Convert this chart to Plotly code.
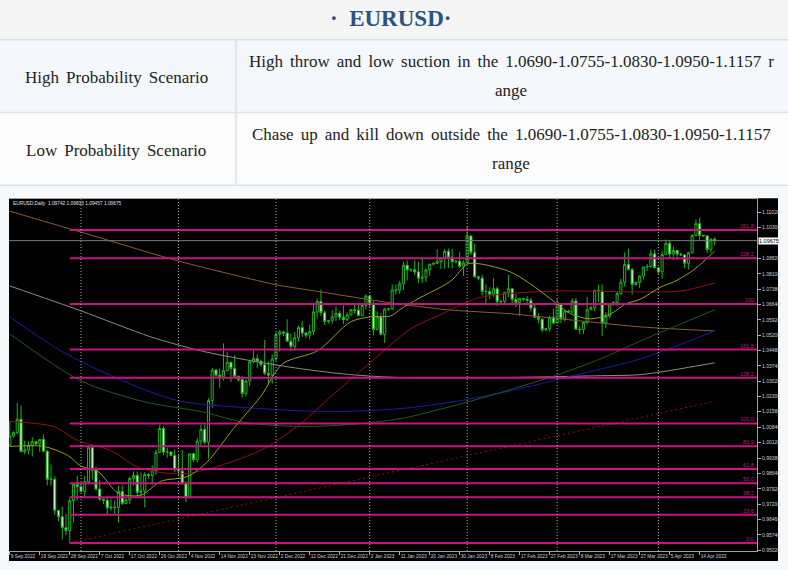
import pandas as pd
import plotly.graph_objects as go

W, H = 788, 570

# ---------------- data ----------------
title_text = "·  EURUSD·"
row_labels = ["High Probability Scenario", "Low Probability Scenario"]
row_lines = [
    ["High throw and low suction in the 1.0690-1.0755-1.0830-1.0950-1.1157 r", "ange"],
    ["Chase up and kill down outside the 1.0690-1.0755-1.0830-1.0950-1.1157", "range"],
]
chart_caption = "EURUSD,Daily  1.09742 1.09833 1.09457 1.09675"

# daily bars incl. Sunday bars (broker calendar), Sep 9 2022 .. Apr 19 2023
dates = [d for d in pd.date_range("2022-09-09", "2023-04-19", freq="D")
         if d.weekday() != 5 and d.strftime("%m-%d") not in ("12-25", "01-01")]

opens = [1.0000, 1.0042, 1.0058, 1.0122, 0.9968, 0.9977, 0.9998, 1.0015, 1.0005, 1.0026,
         0.9970, 0.9836, 0.9838, 0.9689, 0.9660, 0.9608, 0.9594, 0.9736, 0.9814, 0.9802,
         0.9780, 0.9826, 0.9987, 0.9880, 0.9791, 0.9743, 0.9738, 0.9701, 0.9705, 0.9704,
         0.9780, 0.9722, 0.9740, 0.9841, 0.9856, 0.9775, 0.9781, 0.9860, 0.9855, 0.9877,
         0.9964, 1.0078, 0.9966, 0.9966, 0.9950, 0.9882, 0.9876, 0.9818, 0.9750, 0.9958,
         0.9930, 1.0018, 1.0073, 1.0013, 1.0210, 1.0355, 1.0330, 1.0323, 1.0352, 1.0392,
         1.0362, 1.0325, 1.0310, 1.0243, 1.0303, 1.0394, 1.0409, 1.0397, 1.0380, 1.0339,
         1.0330, 1.0407, 1.0524, 1.0535, 1.0530, 1.0491, 1.0466, 1.0508, 1.0556, 1.0530,
         1.0520, 1.0537, 1.0630, 1.0680, 1.0626, 1.0585, 1.0590, 1.0607, 1.0623, 1.0605,
         1.0593, 1.0616, 1.0640, 1.0638, 1.0612, 1.0661, 1.0705, 1.0669, 1.0547, 1.0606,
         1.0523, 1.0643, 1.0645, 1.0734, 1.0733, 1.0763, 1.0851, 1.0829, 1.0830, 1.0820,
         1.0789, 1.0794, 1.0829, 1.0856, 1.0860, 1.0869, 1.0886, 1.0916, 1.0890, 1.0868,
         1.0870, 1.0846, 1.0862, 1.0990, 1.0911, 1.0796, 1.0790, 1.0727, 1.0727, 1.0714,
         1.0740, 1.0678, 1.0680, 1.0723, 1.0740, 1.0689, 1.0675, 1.0694, 1.0690, 1.0684,
         1.0648, 1.0605, 1.0595, 1.0545, 1.0550, 1.0605, 1.0577, 1.0668, 1.0597, 1.0634,
         1.0630, 1.0682, 1.0548, 1.0546, 1.0580, 1.0640, 1.0650, 1.0731, 1.0729, 1.0578,
         1.0610, 1.0668, 1.0675, 1.0717, 1.0771, 1.0854, 1.0830, 1.0760, 1.0770, 1.0800,
         1.0843, 1.0845, 1.0905, 1.0839, 1.0820, 1.0902, 1.0955, 1.0904, 1.0921, 1.0904,
         1.0900, 1.0860, 1.0910, 1.0992, 1.1048, 1.0992, 1.0990, 1.0926, 1.09742]
highs = [1.0112, 1.0065, 1.0198, 1.0187, 1.0020, 1.0017, 1.0037, 1.0020, 1.0028, 1.0050,
         0.9977, 0.9907, 0.9852, 0.9690, 0.9708, 0.9673, 0.9748, 0.9817, 0.9854, 0.9810,
         0.9853, 0.9999, 0.9999, 0.9897, 0.9835, 0.9745, 0.9750, 0.9745, 0.9737, 0.9807,
         0.9809, 0.9745, 0.9850, 0.9875, 0.9874, 0.9870, 0.9870, 0.9865, 0.9903, 0.9976,
         1.0094, 1.0090, 0.9985, 0.9970, 0.9977, 0.9954, 0.9976, 0.9828, 0.9958, 0.9960,
         1.0033, 1.0095, 1.0095, 1.0222, 1.0365, 1.0358, 1.0362, 1.0481, 1.0440, 1.0393,
         1.0425, 1.0328, 1.0325, 1.0310, 1.0403, 1.0448, 1.0430, 1.0400, 1.0497, 1.0396,
         1.0429, 1.0533, 1.0545, 1.0540, 1.0595, 1.0526, 1.0534, 1.0566, 1.0587, 1.0535,
         1.0569, 1.0673, 1.0694, 1.0736, 1.0637, 1.0592, 1.0638, 1.0658, 1.0635, 1.0660,
         1.0628, 1.0645, 1.0664, 1.0667, 1.0667, 1.0713, 1.0711, 1.0683, 1.0633, 1.0626,
         1.0649, 1.0650, 1.0760, 1.0760, 1.0776, 1.0868, 1.0874, 1.0835, 1.0874, 1.0867,
         1.0888, 1.0836, 1.0858, 1.0865, 1.0927, 1.0890, 1.0929, 1.0930, 1.0928, 1.0875,
         1.0914, 1.0875, 1.1033, 1.0990, 1.0955, 1.0800, 1.0806, 1.0760, 1.0747, 1.0790,
         1.0750, 1.0685, 1.0725, 1.0804, 1.0740, 1.0716, 1.0695, 1.0695, 1.0705, 1.0697,
         1.0665, 1.0623, 1.0601, 1.0555, 1.0611, 1.0645, 1.0691, 1.0670, 1.0637, 1.0640,
         1.0694, 1.0695, 1.0561, 1.0584, 1.0702, 1.0660, 1.0736, 1.0759, 1.0760, 1.0629,
         1.0669, 1.0680, 1.0726, 1.0787, 1.0912, 1.0930, 1.0838, 1.0775, 1.0803, 1.0845,
         1.0857, 1.0925, 1.0925, 1.0840, 1.0917, 1.0973, 1.0968, 1.0941, 1.0924, 1.0910,
         1.0904, 1.0915, 1.0998, 1.1067, 1.1076, 1.0995, 1.0993, 1.0979, 1.09833]
lows = [0.9994, 1.0035, 1.0050, 0.9966, 0.9955, 0.9955, 0.9945, 1.0000, 0.9967, 0.9966,
        0.9808, 0.9807, 0.9668, 0.9640, 0.9553, 0.9572, 0.9536, 0.9633, 0.9737, 0.9775,
        0.9750, 0.9814, 0.9836, 0.9784, 0.9736, 0.9720, 0.9670, 0.9688, 0.9668, 0.9632,
        0.9716, 0.9720, 0.9720, 0.9808, 0.9757, 0.9755, 0.9705, 0.9840, 0.9809, 0.9860,
        0.9961, 0.9952, 0.9940, 0.9945, 0.9870, 0.9853, 0.9810, 0.9730, 0.9747, 0.9920,
        0.9917, 0.9993, 1.0002, 0.9935, 1.0176, 1.0320, 1.0271, 1.0305, 1.0351, 1.0298,
        1.0318, 1.0300, 1.0224, 1.0229, 1.0278, 1.0387, 1.0364, 1.0370, 1.0330, 1.0290,
        1.0290, 1.0399, 1.0442, 1.0515, 1.0490, 1.0444, 1.0448, 1.0489, 1.0511, 1.0505,
        1.0500, 1.0520, 1.0598, 1.0610, 1.0568, 1.0575, 1.0573, 1.0587, 1.0591, 1.0573,
        1.0586, 1.0612, 1.0620, 1.0611, 1.0609, 1.0643, 1.0650, 1.0519, 1.0542, 1.0519,
        1.0483, 1.0635, 1.0640, 1.0713, 1.0716, 1.0734, 1.0779, 1.0820, 1.0804, 1.0766,
        1.0766, 1.0771, 1.0802, 1.0850, 1.0856, 1.0833, 1.0835, 1.0838, 1.0836, 1.0860,
        1.0839, 1.0800, 1.0860, 1.0899, 1.0793, 1.0780, 1.0707, 1.0669, 1.0689, 1.0702,
        1.0658, 1.0670, 1.0668, 1.0700, 1.0662, 1.0653, 1.0612, 1.0680, 1.0660, 1.0632,
        1.0600, 1.0577, 1.0533, 1.0540, 1.0536, 1.0571, 1.0577, 1.0577, 1.0585, 1.0625,
        1.0622, 1.0548, 1.0524, 1.0526, 1.0570, 1.0640, 1.0633, 1.0676, 1.0516, 1.0552,
        1.0600, 1.0660, 1.0658, 1.0711, 1.0750, 1.0832, 1.0713, 1.0755, 1.0743, 1.0783,
        1.0824, 1.0840, 1.0840, 1.0810, 1.0788, 1.0900, 1.0886, 1.0875, 1.0876, 1.0895,
        1.0837, 1.0831, 1.0907, 1.0988, 1.0969, 1.0985, 1.0910, 1.0910, 1.09457]
closes = [1.0042, 1.0058, 1.0122, 0.9968, 0.9977, 0.9998, 1.0015, 1.0005, 1.0026, 0.9970,
          0.9836, 0.9838, 0.9689, 0.9660, 0.9608, 0.9594, 0.9736, 0.9814, 0.9802, 0.9780,
          0.9826, 0.9987, 0.9880, 0.9791, 0.9743, 0.9738, 0.9701, 0.9705, 0.9704, 0.9780,
          0.9722, 0.9740, 0.9841, 0.9856, 0.9775, 0.9781, 0.9860, 0.9855, 0.9877, 0.9964,
          1.0078, 0.9966, 0.9966, 0.9950, 0.9882, 0.9876, 0.9818, 0.9750, 0.9958, 0.9930,
          1.0018, 1.0073, 1.0013, 1.0210, 1.0355, 1.0330, 1.0323, 1.0352, 1.0392, 1.0362,
          1.0325, 1.0310, 1.0243, 1.0303, 1.0394, 1.0409, 1.0397, 1.0380, 1.0339, 1.0330,
          1.0407, 1.0524, 1.0535, 1.0530, 1.0491, 1.0466, 1.0508, 1.0556, 1.0530, 1.0520,
          1.0537, 1.0630, 1.0680, 1.0626, 1.0585, 1.0590, 1.0607, 1.0623, 1.0605, 1.0593,
          1.0616, 1.0640, 1.0638, 1.0612, 1.0661, 1.0705, 1.0669, 1.0547, 1.0606, 1.0523,
          1.0643, 1.0645, 1.0734, 1.0733, 1.0763, 1.0851, 1.0829, 1.0830, 1.0820, 1.0789,
          1.0794, 1.0829, 1.0856, 1.0860, 1.0869, 1.0886, 1.0916, 1.0890, 1.0868, 1.0870,
          1.0846, 1.0862, 1.0990, 1.0911, 1.0796, 1.0790, 1.0727, 1.0727, 1.0714, 1.0740,
          1.0678, 1.0680, 1.0723, 1.0740, 1.0689, 1.0675, 1.0694, 1.0690, 1.0684, 1.0648,
          1.0605, 1.0595, 1.0545, 1.0550, 1.0605, 1.0577, 1.0668, 1.0597, 1.0634, 1.0630,
          1.0682, 1.0548, 1.0546, 1.0580, 1.0640, 1.0650, 1.0731, 1.0729, 1.0578, 1.0610,
          1.0668, 1.0675, 1.0717, 1.0771, 1.0854, 1.0830, 1.0760, 1.0770, 1.0800, 1.0843,
          1.0845, 1.0905, 1.0839, 1.0820, 1.0902, 1.0955, 1.0904, 1.0921, 1.0904, 1.0900,
          1.0860, 1.0910, 1.0992, 1.1048, 1.0992, 1.0990, 1.0926, 1.0974, 1.09675]

# moving averages, sampled along the drawn curves (bar index, price)
ma_yellow_i = [0, 9, 15.5, 19, 23.5, 29, 35, 40.3, 47.5, 52.8, 59.7, 66.9, 72.8, 82.1, 90.9, 96.3,
               101.6, 104.3, 108.8, 117.6, 122.1, 125.6, 133.6, 138.9, 144.3, 149.6, 154.9,
               160.3, 164.3, 168.3, 173.6, 177.1, 181.6, 184.3, 188]
ma_yellow_p = [0.9993, 0.9993, 0.9950, 0.9899, 0.9875, 0.9771, 0.9762, 0.9828, 0.9851, 0.9922,
               1.0078, 1.0229, 1.0385, 1.0446, 1.0583, 1.0607, 1.0611, 1.0644, 1.0691, 1.0776,
               1.0857, 1.0857, 1.0819, 1.0762, 1.0691, 1.0621, 1.0597, 1.0621, 1.0668, 1.0691,
               1.0748, 1.0772, 1.0819, 1.0857, 1.0918]
ma_red_i = [0, 11.7, 18.1, 26.9, 34.9, 47.5, 66.9, 77.6, 85.6, 94.9, 106.9, 114.1, 124.8, 131.7,
            146.9, 168.3, 178.9, 188]
ma_red_p = [1.0111, 1.0087, 1.0021, 0.9974, 0.9889, 0.9865, 0.9974, 1.0101, 1.0229, 1.0371,
            1.0550, 1.0611, 1.0696, 1.0715, 1.0729, 1.0725, 1.0729, 1.0767]
ma_green_i = [0, 18.9, 35.7, 50.9, 62.9, 77.6, 90.9, 104.3, 117.6, 130.9, 146.9, 157.6, 168.3, 188]
ma_green_p = [1.0526, 1.0304, 1.0205, 1.0158, 1.0106, 1.0087, 1.0097, 1.0125, 1.0182, 1.0248,
              1.0337, 1.0408, 1.0493, 1.0640]
ma_blue_i = [0, 13.6, 28.8, 44.8, 66.9, 85.6, 104.3, 120.3, 136.3, 152.3, 168.3, 188]
ma_blue_p = [1.0607, 1.0446, 1.0314, 1.0210, 1.0172, 1.0158, 1.0172, 1.0210, 1.0267, 1.0337,
             1.0408, 1.0540]
ma_brown_i = [0, 19, 45, 64.3, 71.2, 82.9, 101.6, 116.8, 133.6, 146.9, 168.3, 188]
ma_brown_p = [1.1107, 1.1008, 1.0871, 1.0786, 1.0758, 1.0725, 1.0673, 1.0640, 1.0621, 1.0597,
              1.0559, 1.0540]
ma_grey_i = [0, 19, 37.6, 50.9, 64.3, 77.6, 90.9, 104.3, 130.9, 157.6, 168.3, 188]
ma_grey_p = [1.0753, 1.0635, 1.0512, 1.0446, 1.0399, 1.0361, 1.0333, 1.0319, 1.0319, 1.0328,
             1.0333, 1.0389]

trend_i = [16, 188]
trend_p = [0.9536, 1.0207]

# Fibonacci tool: anchors and level ratios
fib_start_bar = 16
fib_low, fib_high = 0.9536, 1.0102
fib_ratios = [0.0, 23.6, 38.2, 50.0, 61.8, 80.9, 100.0, 138.2, 161.8, 200.0, 238.2, 261.8]
fib_labels = ["0.0", "23.6", "38.2", "50.0", "61.8", "80.9", "100.0", "138.2", "161.8", "200",
              "238.2", "261.8"]

price_ticks = [1.11020, 1.10300, 1.08820, 1.08100, 1.07380, 1.06640, 1.05920, 1.05200, 1.04480,
               1.03740, 1.03020, 1.02300, 1.01580, 1.00840, 1.00120, 0.99380, 0.98640, 0.97920,
               0.97200, 0.96460, 0.95740, 0.95020]

# ---------------- layout helpers ----------------
def px_x(v):
    return v / W

def px_y(v):
    return 1 - v / H

PLOT_L, PLOT_R, PLOT_T, PLOT_B = 9, 757, 200, 553
X_RANGE = [-0.2, 199.3]
Y_RANGE = [0.94973, 1.11634]
TINY = "Liberation Sans"

x = list(range(len(dates)))
date_ticks = x[::8]
date_labels = [f"{dates[i].day} {dates[i].strftime('%b %Y')}" for i in date_ticks]
month_starts = [i for i in range(1, len(dates)) if dates[i].month != dates[i - 1].month]

fig = go.Figure()

fig.add_trace(go.Candlestick(
    x=x, open=opens, high=highs, low=lows, close=closes,
    increasing=dict(line=dict(color="#1cb41c", width=1), fillcolor="#000000"),
    decreasing=dict(line=dict(color="#1cb41c", width=1), fillcolor="#e6fbe6"),
    whiskerwidth=0, showlegend=False, hoverinfo="skip"))

def add_line(xs, ys, color, width=1, dash="solid", shape="spline"):
    fig.add_trace(go.Scatter(x=xs, y=ys, mode="lines",
                             line=dict(color=color, width=width, dash=dash, shape=shape, smoothing=0.8),
                             showlegend=False, hoverinfo="skip"))

add_line(ma_brown_i, ma_brown_p, "#8a5c3c")
add_line(ma_grey_i, ma_grey_p, "#8c8c8c")
add_line(ma_blue_i, ma_blue_p, "#1c1ca0")
add_line(ma_green_i, ma_green_p, "#1c5c1c")
add_line(ma_red_i, ma_red_p, "#8e1212")
add_line(ma_yellow_i, ma_yellow_p, "#9c9c22")
add_line(trend_i, trend_p, "#8e1212", dash="2px,3px", shape="linear")

# current price line
add_line([X_RANGE[0], X_RANGE[1]], [closes[-1], closes[-1]], "#7a7a7a", shape="linear")

# Fibonacci levels
fx, fy = [], []
for r in fib_ratios:
    lvl = fib_low + r / 100.0 * (fib_high - fib_low)
    fx += [fib_start_bar, X_RANGE[1], None]
    fy += [lvl, lvl, None]
fig.add_trace(go.Scatter(x=fx, y=fy, mode="lines", line=dict(color="#c8147e", width=2),
                         showlegend=False, hoverinfo="skip"))
for r, lab in zip(fib_ratios, fib_labels):
    lvl = fib_low + r / 100.0 * (fib_high - fib_low)
    fig.add_annotation(x=1, xref="x domain", y=lvl, yref="y", text=lab, showarrow=False,
                       xanchor="right", yanchor="bottom", xshift=-1, yshift=-1,
                       font=dict(family=TINY, size=5.5, color="#c8147e"))

shapes = []
# outer black chart panel
shapes.append(dict(type="rect", xref="paper", yref="paper", x0=px_x(9), x1=px_x(778),
                   y0=px_y(563), y1=px_y(199), fillcolor="#000000", line=dict(width=0), layer="below"))
# page bands
shapes.append(dict(type="rect", xref="paper", yref="paper", x0=0, x1=1, y0=px_y(40), y1=1,
                   fillcolor="#f5f5f5", line=dict(width=0), layer="below"))
shapes.append(dict(type="rect", xref="paper", yref="paper", x0=0, x1=1, y0=px_y(113), y1=px_y(40),
                   fillcolor="#f4f8fc", line=dict(width=0), layer="below"))
shapes.append(dict(type="rect", xref="paper", yref="paper", x0=0, x1=1, y0=px_y(186), y1=px_y(113),
                   fillcolor="#fcfcfd", line=dict(width=0), layer="below"))
for yy in (40, 113, 186):
    shapes.append(dict(type="line", xref="paper", yref="paper", x0=0, x1=1, y0=px_y(yy), y1=px_y(yy),
                       line=dict(color="#dde1e6", width=1.5), layer="below"))
shapes.append(dict(type="line", xref="paper", yref="paper", x0=px_x(236), x1=px_x(236),
                   y0=px_y(186), y1=px_y(40), line=dict(color="#dde1e6", width=1.5), layer="below"))
# month separators
for i in month_starts:
    shapes.append(dict(type="line", xref="x", yref="y domain", x0=i, x1=i, y0=0, y1=1,
                       line=dict(color="#b8b8b8", width=1, dash="1px,2px"), layer="above"))

serif = "Liberation Serif"
SP = " \u2006"  # slightly widened word spacing, as in the justified original


def spaced(s):
    return s.replace(" ", SP)


body_font = dict(family=serif, size=17, color="#222222")
fig.add_annotation(xref="paper", yref="paper", x=px_x(390), y=px_y(19), showarrow=False,
                   text="<b>" + title_text + "</b>", xanchor="center", yanchor="middle",
                   font=dict(family=serif, size=23, color="#2c5282"))
label_y = [78, 151]
line_y = [[62, 91], [135, 164]]
for k in range(2):
    fig.add_annotation(xref="paper", yref="paper", x=px_x(116), y=px_y(label_y[k]),
                       text=spaced(row_labels[k]), showarrow=False, xanchor="center",
                       yanchor="middle", font=body_font)
    for j, line in enumerate(row_lines[k]):
        fig.add_annotation(xref="paper", yref="paper", x=px_x(511), y=px_y(line_y[k][j]),
                           text=spaced(line), showarrow=False, xanchor="center",
                           yanchor="middle", font=body_font)

fig.add_annotation(xref="paper", yref="paper", x=px_x(11), y=px_y(204), text=chart_caption,
                   showarrow=False, xanchor="left", yanchor="middle",
                   font=dict(family=TINY, size=4.8, color="#e0e0e0"))
# current price box on the price scale
fig.add_annotation(x=1, xref="x domain", y=closes[-1], yref="y", text=f"{closes[-1]:.5f}",
                   showarrow=False, xanchor="left", yanchor="middle", xshift=1,
                   bgcolor="#ffffff", borderpad=0,
                   font=dict(family=TINY, size=5.5, color="#000000"))

fig.update_layout(
    width=W, height=H, margin=dict(l=0, r=0, t=0, b=0), autosize=False,
    paper_bgcolor="#f6f9fc", plot_bgcolor="#000000",
    shapes=shapes, boxgap=0.2, hovermode=False,
    xaxis=dict(domain=[px_x(PLOT_L), px_x(PLOT_R)], range=X_RANGE, rangeslider=dict(visible=False),
               tickvals=date_ticks, ticktext=date_labels, ticks="outside", ticklen=3,
               tickcolor="#b0b0b0", ticklabelposition="outside right", tickangle=0,
               tickfont=dict(family=TINY, size=4.8, color="#d0d0d0"),
               showgrid=False, zeroline=False, showline=True, linecolor="#a0a0a0", mirror=True),
    yaxis=dict(domain=[px_y(PLOT_B), px_y(PLOT_T)], range=Y_RANGE, side="right",
               tickvals=price_ticks, ticktext=[f"{v:.5f}" for v in price_ticks],
               ticks="outside", ticklen=3, tickcolor="#b0b0b0",
               tickfont=dict(family=TINY, size=5, color="#d0d0d0"),
               showgrid=False, zeroline=False, showline=True, linecolor="#a0a0a0"),
)

post = (
    "var de=document.documentElement, b=document.body;"
    "de.style.margin='0';de.style.padding='0';de.style.overflow='hidden';"
    "b.style.margin='0';b.style.padding='0';b.style.overflow='hidden';"
)
fig.write_html("out.html", config={"displayModeBar": False, "responsive": False}, post_script=post)
